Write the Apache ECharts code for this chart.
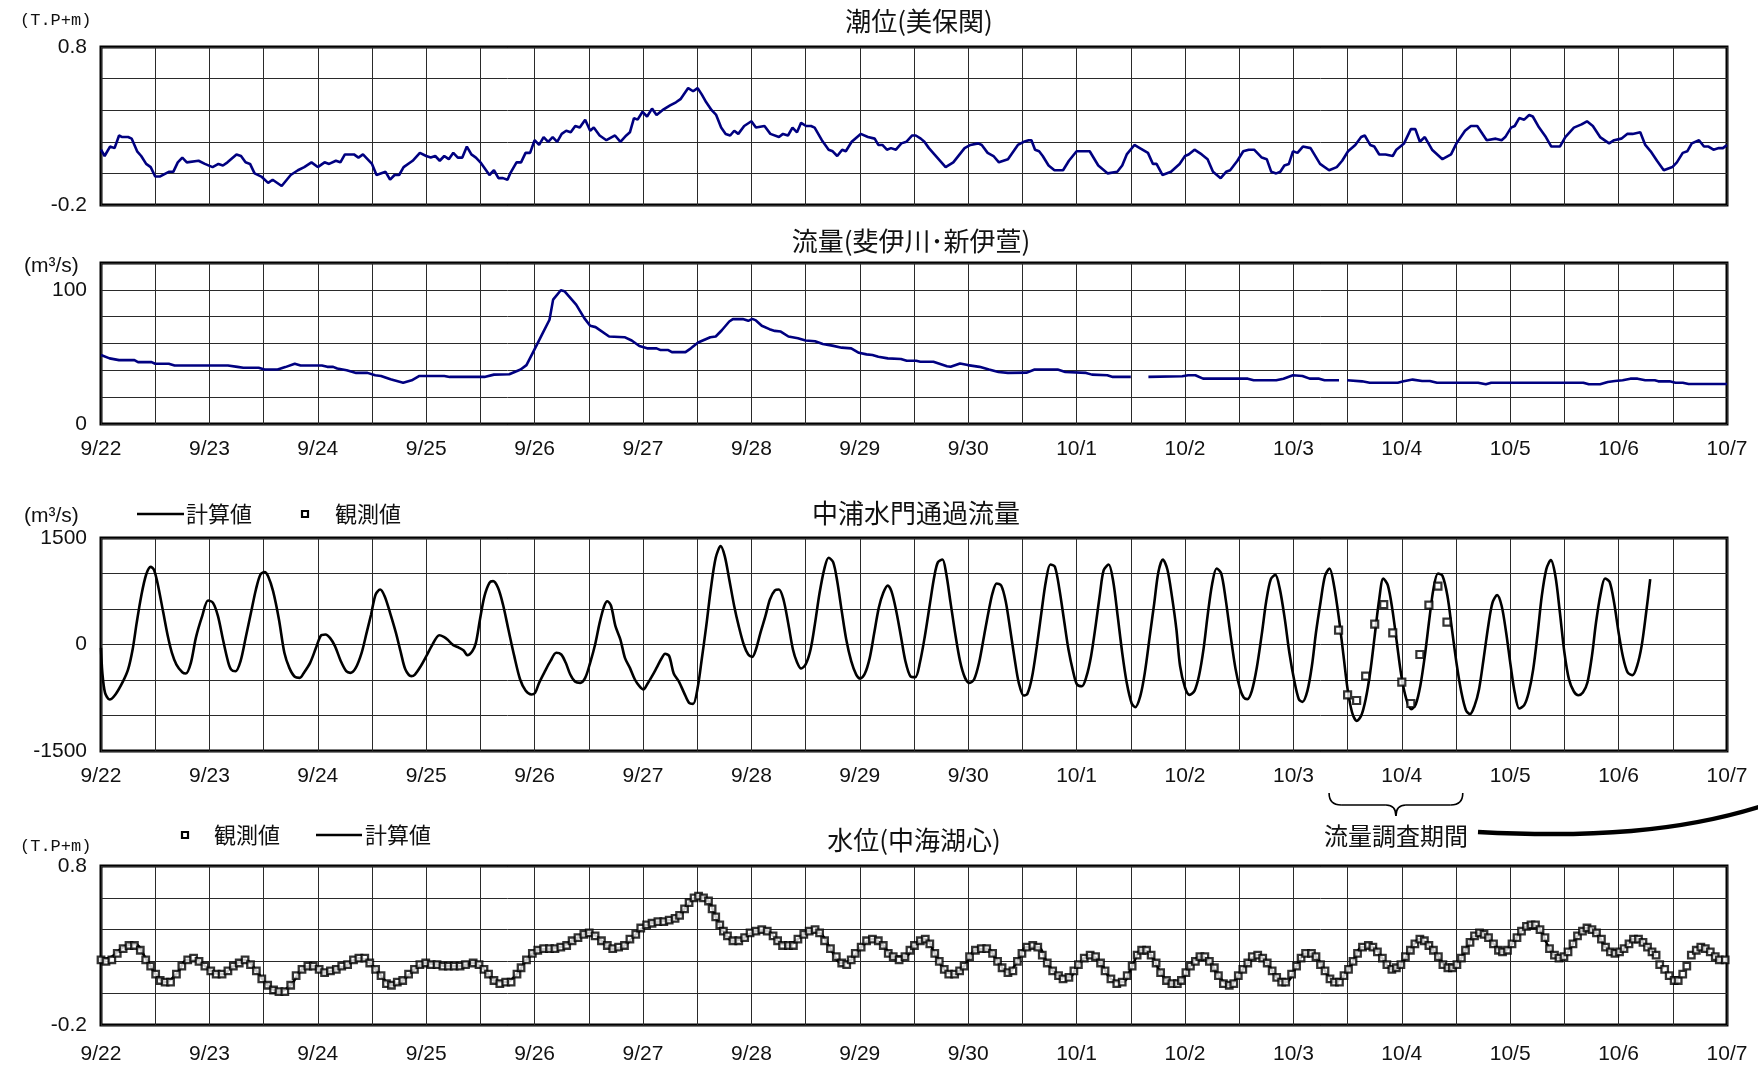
<!DOCTYPE html>
<html><head><meta charset="utf-8">
<script src="https://cdn.jsdelivr.net/npm/echarts/dist/echarts.min.js"></script>
<style>html,body{margin:0;padding:0;background:#fff}#c{width:1758px;height:1067px}</style>
</head><body><div id="c"></div><script>
// ---- tick labels ----
const dateLabels = ['9/22','9/23','9/24','9/25','9/26','9/27','9/28','9/29','9/30','10/1','10/2','10/3','10/4','10/5','10/6','10/7'];
const tideYLabels = [-0.2, 0.8];
const riverYLabels = [0, 100];
const gateYLabels = [-1500, 0, 1500];
const lakeYLabels = [-0.2, 0.8];

// ---- data: [hours since 9/22 0:00, value] ----
const tideMihonoseki = [[0,0.15],[0.8,0.11],[2,0.17],[3,0.16],[4,0.24],[4.7,0.23],[6,0.23],[6.8,0.22],[8,0.14],[8.9,0.11],[10,0.06],[11,0.04],[12,-0.02],[13,-0.02],[15,0.01],[16,0.01],[17,0.07],[18,0.10],[19,0.07],[21.6,0.08],[23,0.06],[24.7,0.04],[26,0.06],[27,0.05],[28,0.07],[30,0.12],[31,0.11],[32,0.07],[33,0.06],[34,0.0],[35.5,-0.02],[37,-0.06],[38,-0.04],[40,-0.08],[42,-0.01],[43.6,0.02],[45,0.04],[46.6,0.07],[48,0.04],[49.5,0.07],[50.5,0.06],[52,0.08],[53,0.07],[54,0.12],[56,0.12],[57,0.10],[58,0.12],[60,0.06],[61,-0.01],[63,0.01],[64,-0.04],[65,-0.01],[66,-0.01],[67,0.04],[69,0.08],[70.6,0.13],[72,0.11],[73,0.10],[74,0.11],[75,0.08],[76,0.11],[77,0.09],[78,0.13],[79,0.10],[80,0.10],[81,0.17],[82,0.12],[83,0.10],[84,0.07],[86,-0.01],[87,0.02],[88,-0.03],[89,-0.03],[90,-0.04],[90.6,0.0],[92,0.07],[93,0.07],[94,0.13],[95,0.13],[96,0.21],[97,0.18],[98,0.23],[99,0.20],[100,0.23],[101,0.20],[102,0.25],[103,0.27],[104,0.26],[105,0.30],[106,0.29],[107.2,0.34],[108.3,0.27],[109.1,0.29],[110.4,0.24],[111.9,0.21],[113.8,0.24],[115,0.20],[116.3,0.24],[117.1,0.26],[118,0.35],[118.8,0.34],[119.9,0.39],[120.9,0.36],[122,0.41],[123,0.37],[124.3,0.40],[126,0.43],[127.3,0.45],[128.3,0.47],[130,0.54],[131.1,0.52],[132.1,0.54],[133,0.50],[134,0.45],[135.2,0.40],[136.2,0.37],[137.3,0.29],[138.3,0.25],[139.3,0.24],[140.2,0.27],[141.1,0.25],[142.4,0.30],[144,0.33],[145,0.29],[146.9,0.30],[148.2,0.25],[150.1,0.23],[151,0.25],[152.1,0.24],[153.1,0.29],[154.1,0.26],[155,0.32],[156.1,0.30],[157.2,0.30],[158,0.29],[159.6,0.21],[161.1,0.15],[162,0.14],[163,0.11],[164.1,0.15],[164.9,0.14],[166.2,0.20],[168.2,0.25],[169.8,0.23],[171.3,0.22],[172.1,0.18],[173,0.18],[174,0.15],[174.9,0.16],[176,0.15],[177.2,0.19],[178.3,0.20],[179.6,0.24],[180.4,0.24],[181.5,0.22],[182.3,0.20],[183.3,0.16],[187,0.04],[188.7,0.07],[191.2,0.16],[192.5,0.18],[194.2,0.19],[195,0.18],[196.3,0.13],[197.6,0.11],[198.8,0.07],[200.8,0.09],[203,0.18],[204.3,0.20],[205.4,0.21],[206,0.21],[206.8,0.15],[207.7,0.14],[208.5,0.11],[209.8,0.05],[211.1,0.02],[213,0.02],[214.3,0.08],[216,0.14],[218.9,0.14],[220.8,0.05],[222.9,0.00],[225,0.01],[226.1,0.05],[227.1,0.12],[228.8,0.18],[230,0.16],[231.8,0.13],[232.9,0.06],[233.7,0.06],[235,-0.01],[236.9,0.01],[238.8,0.06],[240,0.11],[240.8,0.12],[242.1,0.15],[243.7,0.12],[245,0.09],[246.2,0.01],[247.9,-0.03],[249.1,0.01],[250,0.02],[251.6,0.08],[252.9,0.14],[254.1,0.15],[255.3,0.15],[257,0.10],[258.1,0.09],[259.1,0.01],[260.2,0.00],[261.1,0.01],[262,0.05],[263,0.06],[263.9,0.14],[264.9,0.13],[266.1,0.17],[267.8,0.16],[269.9,0.06],[271.9,0.02],[273.6,0.04],[274.8,0.08],[276.1,0.14],[277.7,0.18],[279,0.23],[279.8,0.24],[281,0.18],[281.9,0.17],[283,0.12],[284.4,0.12],[286,0.11],[286.8,0.15],[288.5,0.19],[290,0.28],[291,0.28],[292,0.20],[293.1,0.23],[294.7,0.15],[297,0.09],[298.9,0.12],[300.1,0.19],[302,0.27],[303.3,0.30],[304.7,0.30],[306.8,0.21],[308.8,0.22],[310.1,0.21],[310.9,0.23],[312.2,0.29],[313,0.30],[314,0.35],[315.1,0.34],[316.2,0.37],[317,0.36],[318.4,0.29],[319.9,0.23],[321.1,0.17],[323,0.17],[324.2,0.23],[326.1,0.29],[327.8,0.31],[329,0.33],[330.3,0.30],[331.9,0.23],[333.9,0.19],[335,0.21],[336.6,0.22],[337.9,0.25],[339.1,0.25],[340.8,0.26],[341.9,0.18],[343.1,0.14],[344.5,0.08],[346,0.02],[347.9,0.04],[348.9,0.07],[350.2,0.13],[351.2,0.14],[352.2,0.19],[353.8,0.21],[354.9,0.17],[355.9,0.17],[357,0.15],[358.2,0.16],[359.1,0.16],[360,0.18]];

const flowHiiRiver = [[0,51.4],[1.9,48.9],[4,47.6],[7.4,47.6],[8.2,46.1],[11.2,46.1],[12,44.9],[15,44.9],[16.3,43.6],[28.1,43.6],[30.2,42.6],[31.5,41.9],[34.9,41.9],[36.2,40.6],[39.1,40.6],[40.8,42.4],[42.9,44.9],[44.2,43.6],[48.9,43.6],[50.1,42.6],[51.4,42.6],[52.3,41.4],[54.4,40.1],[56.5,38.1],[59,38.1],[60.7,36.3],[62,35.8],[64.1,33.3],[66.9,30.8],[68.8,32.6],[70.5,35.8],[76,35.8],[77.2,35.1],[84.9,35.1],[87,36.8],[90.4,37.1],[92.9,40.6],[94.2,43.9],[95.9,55.1],[97.6,66.4],[99.3,77.7],[100.1,92.7],[101.8,99.7],[102.6,99],[105.2,89],[107,78.9],[108.3,73.2],[109.5,72.2],[112.5,65.2],[112.9,64.7],[115.9,64.7],[117.5,62.2],[119.2,58.1],[120.9,56.4],[123,56.4],[123.9,55.1],[125.6,55.1],[126.4,53.6],[129.4,53.6],[130.6,56.4],[132.2,60.7],[134.9,64.7],[136.1,65.2],[137.4,69.7],[139.1,76.4],[139.9,78.2],[142.1,78.2],[143.3,76.9],[144.2,78.4],[145,77.2],[146.3,73.2],[148,70.7],[149.2,69.4],[150.5,68.9],[152.2,65.2],[154.3,63.9],[156,62.2],[158.1,61.7],[159.8,59.6],[161.9,58.4],[164,56.9],[166.1,56.4],[167.8,53.1],[169.5,51.9],[170.8,51.4],[172.1,50.1],[174.2,48.9],[177.1,48.4],[178.4,47.1],[180.5,47.1],[181.4,46.4],[184.3,46.4],[187.3,43.1],[188.1,42.6],[190.2,45.1],[191.9,43.9],[194.5,42.6],[196.6,40.6],[198.7,38.8],[200.8,38.1],[205,38.3],[206.7,40.6],[211.8,40.6],[213.5,38.8],[218.1,38.1],[219.4,36.8],[222.8,36.3],[224,35.1],[228,35.1],[230,'-'],[231.9,35.1],[239.4,35.6],[240.7,36.3],[242.3,36.3],[244,33.8],[253.9,33.8],[255.2,32.6],[260.2,32.6],[261.8,33.8],[263.9,36.3],[266,35.8],[267.6,33.8],[269.7,33.8],[270.9,32.6],[274.1,32.6],[275,'-'],[275.9,32.6],[279.2,31.8],[280.9,30.8],[287.1,30.8],[288.4,31.8],[290.4,33.1],[292.5,32.1],[294.2,32.1],[295.8,30.8],[304.9,30.8],[306.6,29.6],[307.8,30.8],[328.2,30.8],[329.4,29.6],[331.9,29.6],[333.6,31.3],[335.2,32.1],[336.9,32.6],[338.6,33.8],[340.2,33.8],[341.9,32.6],[344,32.6],[344.8,31.8],[347.3,31.8],[348.6,30.8],[350.2,30.8],[351.5,29.8],[360,29.8]];

const gateFlowCalc = [[0,-47],[0.3,-399],[0.9,-681],[1.9,-775],[3.2,-704],[4.9,-516],[6,-352],[7,-70],[7.9,305],[8.9,681],[10,986],[11,1094],[11.7,1056],[12.5,869],[13.8,446],[14.8,117],[15.7,-117],[16.7,-282],[18,-390],[18.8,-408],[19.9,-258],[21,94],[22.4,399],[23.7,620],[24.8,587],[25.9,399],[27,70],[28.1,-235],[28.8,-352],[29.8,-376],[30.9,-235],[32.1,117],[33.2,446],[34.3,775],[35.3,986],[36.2,1019],[37,962],[38.1,751],[39.4,352],[40.6,-117],[41.7,-329],[42.9,-455],[44,-470],[45,-390],[46.3,-258],[47.6,-47],[48.7,127],[49.7,141],[50.7,94],[51.8,-23],[53.1,-235],[54.3,-376],[55.2,-399],[56.4,-329],[57.7,-117],[58.8,164],[59.8,423],[60.8,704],[61.8,775],[62.8,681],[64,446],[65.3,164],[66.4,-117],[67.4,-352],[68.7,-446],[69.5,-423],[70.8,-305],[72.1,-155],[73.2,-23],[74.9,131],[75.9,108],[76.7,70],[78,-9],[79.3,-47],[80.3,-85],[81.1,-150],[82.2,-94],[83,23],[83.9,352],[84.9,681],[86,869],[86.8,892],[87.9,798],[89,563],[90.2,211],[91.5,-164],[92.8,-493],[94,-648],[95.3,-704],[96.1,-681],[97,-540],[98.3,-376],[99.5,-235],[100.8,-117],[101.9,-141],[102.9,-258],[103.9,-423],[105,-526],[106.1,-540],[107.2,-470],[108.3,-258],[109.4,0],[110.4,305],[111.4,540],[112.1,610],[112.9,549],[113.9,258],[115,70],[116,-188],[117.1,-329],[118.2,-493],[119.2,-587],[120.1,-634],[120.9,-563],[122,-446],[123,-329],[124.1,-197],[124.9,-131],[125.8,-164],[126.8,-408],[127.9,-516],[129.1,-681],[130.2,-822],[131.1,-836],[132.1,-610],[133,-211],[134,258],[135,775],[136.1,1221],[137.2,1385],[138.1,1244],[139.1,916],[140.2,540],[141.2,258],[142.3,0],[143.3,-141],[144.2,-174],[145,-70],[146,164],[147.1,399],[148.1,634],[149.2,761],[150.1,775],[151.1,634],[152.2,282],[153.2,-70],[154.1,-249],[155,-338],[156,-282],[157.1,-70],[158.1,305],[159.1,728],[160.2,1080],[161.1,1221],[162.1,1160],[163,892],[164,470],[165,70],[166.1,-235],[167.2,-423],[168.1,-479],[169.1,-413],[170.2,-188],[171.2,164],[172.2,516],[173.2,728],[174.2,831],[175,751],[176,493],[177.1,117],[178.1,-235],[179.2,-446],[180.3,-460],[181.3,-258],[182.4,117],[183.5,563],[184.5,962],[185.3,1160],[186.3,1197],[187.1,1009],[188.1,587],[189.1,164],[190.2,-235],[191.3,-470],[192.3,-540],[193.3,-493],[194.4,-258],[195.5,117],[196.6,493],[197.4,728],[198.3,859],[199.3,831],[200.3,610],[201.3,211],[202.3,-211],[203.2,-540],[204.3,-718],[205.1,-695],[206.1,-470],[207.2,-23],[208.2,446],[209.2,892],[210.2,1127],[211.2,1094],[212.2,775],[213.2,352],[214.2,-70],[215.3,-399],[216.1,-563],[217.2,-587],[218.2,-446],[219.2,-164],[220.2,258],[221.2,728],[222,1047],[223.1,1127],[224.1,892],[225.1,399],[226.1,-117],[227.1,-540],[228.2,-831],[229,-883],[230.1,-728],[231.1,-399],[232.2,117],[233.2,587],[234.1,1019],[235.1,1197],[236.1,1056],[237.1,681],[238.1,211],[238.9,-300],[240,-606],[241,-709],[242.1,-653],[243.1,-441],[244.1,-66],[245,404],[246,850],[247,1071],[248,1005],[249,639],[250.1,122],[251.2,-347],[252.2,-629],[253,-746],[253.8,-770],[254.8,-653],[255.9,-324],[257,146],[258,615],[259,920],[260,981],[261,780],[262.1,357],[263.1,-113],[264.2,-512],[265.2,-770],[266,-808],[267.1,-653],[268.1,-300],[269,169],[270,592],[271,968],[272,1071],[273,827],[274.1,357],[275.1,-160],[276,-629],[277,-958],[278,-1075],[279,-1005],[280,-770],[281,-394],[282,122],[283,639],[283.9,930],[284.9,836],[285.9,498],[286.9,28],[287.9,-441],[289,-770],[290.1,-911],[291.1,-841],[292.1,-582],[293.1,-160],[294.1,357],[295,780],[296,1001],[297,967],[298.1,686],[299.1,216],[300.2,-300],[301.2,-676],[302.2,-925],[303.1,-981],[304.1,-864],[305.1,-629],[306.1,-207],[307.2,286],[308.1,592],[309.1,695],[310.1,545],[311.1,169],[312.1,-300],[313,-676],[314,-902],[315.1,-855],[316.1,-676],[317.1,-347],[318.1,169],[319,686],[320,1062],[321,1188],[322,967],[323,451],[324,-113],[325,-488],[326.1,-662],[327.1,-714],[328.1,-676],[329.1,-535],[330.1,-160],[331,310],[332,709],[333,930],[334,883],[335,592],[336,169],[337,-183],[338,-394],[339.1,-432],[340.1,-300],[341.1,-19],[342.1,451],[343,920]];

const gateFlowObs = [[274,202],[276,-709],[278,-789],[280,-446],[282,286],[284,563],[286,164],[288,-531],[290,-831],[292,-141],[294,554],[296,822],[298,315]];

const lakeLevelObs = [[0,0.21],[1.1,0.20],[2.4,0.21],[3.6,0.25],[4.9,0.28],[6.2,0.30],[7.4,0.30],[8.7,0.27],[9.9,0.21],[11,0.17],[12.1,0.12],[13.1,0.08],[14.2,0.07],[15.4,0.07],[16.7,0.12],[17.9,0.17],[19.2,0.21],[20.5,0.22],[21.7,0.20],[23,0.17],[24.3,0.14],[25.5,0.12],[26.8,0.12],[28.1,0.14],[29.3,0.17],[30.6,0.19],[31.9,0.21],[33.1,0.18],[34.4,0.14],[35.6,0.09],[36.9,0.05],[38.2,0.02],[39.4,0.01],[40.7,0.01],[42,0.05],[43.2,0.11],[44.5,0.15],[45.8,0.17],[47,0.17],[48.3,0.15],[49.5,0.13],[50.8,0.14],[52.1,0.15],[53.3,0.17],[54.6,0.18],[55.9,0.21],[57.1,0.22],[58.4,0.22],[59.5,0.19],[60.8,0.15],[62,0.11],[63.2,0.06],[64.3,0.05],[65.6,0.07],[66.8,0.08],[68.1,0.12],[69.4,0.15],[70.6,0.18],[71.9,0.19],[73.1,0.18],[74.4,0.18],[75.7,0.17],[76.9,0.17],[78.2,0.17],[79.5,0.17],[80.7,0.18],[82.4,0.19],[83.7,0.18],[84.8,0.15],[85.8,0.12],[87,0.08],[88.3,0.06],[89.6,0.07],[90.8,0.07],[92.1,0.12],[93,0.16],[94.2,0.21],[95.5,0.25],[96.7,0.27],[98,0.28],[99.3,0.28],[100.5,0.28],[101.8,0.29],[103.1,0.30],[104.3,0.33],[105.6,0.35],[106.9,0.37],[108.1,0.38],[109.4,0.36],[110.8,0.33],[112.1,0.30],[113.3,0.28],[114.6,0.29],[115.9,0.30],[117.1,0.34],[118.4,0.37],[119.5,0.41],[120.8,0.43],[122,0.44],[123.3,0.45],[124.6,0.45],[125.8,0.46],[127.1,0.47],[128.1,0.49],[129.2,0.53],[130.2,0.57],[131.3,0.60],[132.3,0.61],[133.4,0.60],[134.5,0.58],[135.3,0.53],[136.1,0.48],[137,0.43],[137.8,0.39],[138.7,0.36],[139.9,0.33],[141.2,0.33],[142.5,0.35],[143.7,0.38],[145,0.39],[146.3,0.40],[147.5,0.39],[148.8,0.36],[149.8,0.33],[150.9,0.30],[152.2,0.30],[153.3,0.30],[154.3,0.34],[155.6,0.37],[156.8,0.39],[158.1,0.40],[159.1,0.38],[160.2,0.33],[161.5,0.28],[162.8,0.23],[164,0.19],[165.1,0.18],[166.1,0.21],[167,0.25],[168.3,0.29],[169.5,0.33],[170.8,0.34],[172.1,0.33],[173.2,0.30],[174.3,0.25],[175.4,0.23],[176.7,0.21],[178,0.23],[179.1,0.27],[180.1,0.30],[181.4,0.33],[182.5,0.34],[183.5,0.31],[184.6,0.25],[185.6,0.20],[186.7,0.15],[187.7,0.12],[189,0.12],[190.1,0.14],[191.1,0.17],[192.3,0.23],[193.6,0.27],[194.9,0.28],[196.1,0.28],[197.4,0.25],[198.5,0.20],[199.5,0.16],[200.8,0.13],[201.9,0.14],[202.9,0.20],[203.9,0.25],[205,0.29],[206.3,0.30],[207.4,0.29],[208.4,0.24],[209.5,0.19],[210.7,0.14],[212,0.11],[213,0.09],[214.3,0.10],[215.4,0.14],[216.4,0.18],[217.7,0.22],[219,0.24],[220.2,0.23],[221.3,0.19],[222.3,0.14],[223.6,0.09],[224.9,0.06],[226.1,0.07],[227.2,0.11],[228.3,0.17],[229.4,0.24],[230.4,0.27],[231.5,0.27],[232.5,0.24],[233.6,0.19],[234.6,0.13],[235.9,0.08],[237.1,0.06],[238.3,0.06],[239.2,0.08],[240.2,0.13],[241.2,0.17],[242.3,0.20],[243.3,0.23],[244.4,0.23],[245.4,0.20],[246.5,0.16],[247.4,0.11],[248.5,0.06],[249.8,0.05],[250.8,0.06],[251.8,0.11],[252.8,0.15],[253.9,0.19],[254.9,0.23],[256.1,0.24],[257.2,0.22],[258.2,0.19],[259.3,0.14],[260.3,0.10],[261.4,0.07],[262.3,0.07],[263.6,0.12],[264.7,0.17],[265.7,0.22],[266.7,0.25],[268,0.25],[269,0.23],[270,0.18],[271,0.14],[272.1,0.09],[273.1,0.07],[274.2,0.07],[275.2,0.11],[276.2,0.15],[277.2,0.20],[278.2,0.25],[279.3,0.29],[280.6,0.30],[281.6,0.29],[282.6,0.26],[283.7,0.22],[284.7,0.18],[285.8,0.15],[286.8,0.16],[287.8,0.18],[288.8,0.23],[289.9,0.27],[290.9,0.31],[292,0.34],[293,0.33],[294,0.30],[295,0.27],[296.1,0.23],[297.1,0.18],[298.2,0.16],[299.2,0.16],[300.2,0.18],[301.2,0.22],[302.1,0.27],[303.1,0.32],[304.1,0.36],[305.2,0.38],[306.2,0.37],[307.2,0.35],[308.3,0.31],[309.4,0.27],[310.3,0.26],[311.4,0.27],[312.4,0.31],[313.5,0.35],[314.5,0.39],[315.6,0.42],[316.6,0.43],[317.6,0.43],[318.6,0.40],[319.7,0.35],[320.7,0.28],[321.8,0.24],[322.8,0.22],[323.9,0.23],[324.8,0.26],[325.9,0.31],[326.9,0.36],[328,0.39],[329,0.41],[330.1,0.40],[331.1,0.38],[332.2,0.34],[333.1,0.29],[334.2,0.26],[335.2,0.25],[336.2,0.26],[337.2,0.28],[338.3,0.31],[339.3,0.34],[340.4,0.34],[341.4,0.32],[342.4,0.29],[343.4,0.26],[344.3,0.24],[345.1,0.18],[346.2,0.15],[347.2,0.11],[348.3,0.08],[349.2,0.08],[350.2,0.12],[351.1,0.17],[352.1,0.24],[353.2,0.27],[354.2,0.29],[355.2,0.28],[356.3,0.26],[357.4,0.23],[358.3,0.21],[359.6,0.21]];

const lakeLevelCalc = [[0,0.21],[2.4,0.23],[4.9,0.29],[7.4,0.31],[9.9,0.22],[12.1,0.12],[14.2,0.07],[16.7,0.12],[19.2,0.21],[21.7,0.20],[24.3,0.14],[26.8,0.12],[29.3,0.17],[31.9,0.21],[34.4,0.14],[36.9,0.05],[39.4,0.01],[42,0.05],[44.5,0.15],[47,0.17],[49.5,0.13],[52.1,0.15],[54.6,0.18],[57.1,0.22],[59.5,0.19],[62,0.11],[64.3,0.05],[66.8,0.08],[69.4,0.15],[71.9,0.19],[74.4,0.18],[76.9,0.17],[79.5,0.17],[82.4,0.19],[84.8,0.15],[87,0.08],[89.6,0.07],[92.1,0.12],[94.2,0.21],[96.7,0.27],[99.3,0.28],[101.8,0.29],[104.3,0.33],[106.9,0.37],[108.1,0.38],[110.8,0.33],[113.3,0.28],[115.9,0.30],[118.4,0.37],[120.8,0.43],[123.3,0.45],[125.8,0.46],[128.1,0.49],[130.2,0.57],[132.3,0.61],[134.5,0.58],[136.1,0.48],[137.8,0.39],[139.9,0.33],[142.5,0.35],[145,0.39],[147.5,0.39],[149.8,0.33],[152.2,0.30],[154.3,0.34],[156.8,0.39],[159.1,0.38],[161.5,0.28],[164,0.19],[166.1,0.21],[168.3,0.29],[170.8,0.34],[173.2,0.30],[175.4,0.23],[178,0.23],[180.1,0.30],[182.5,0.34],[184.6,0.25],[186.7,0.15],[189,0.12],[191.1,0.17],[193.6,0.27],[196.1,0.28],[198.5,0.20],[200.8,0.13],[202.9,0.20],[205,0.29],[207.4,0.29],[209.5,0.19],[212,0.11],[214.3,0.10],[216.4,0.18],[219,0.24],[221.3,0.19],[223.6,0.09],[226.1,0.07],[228.3,0.17],[230.4,0.27],[232.5,0.24],[234.6,0.13],[237.1,0.06],[239.2,0.08],[241.2,0.17],[243.3,0.23],[245.4,0.20],[247.4,0.11],[249.8,0.05],[251.8,0.11],[253.9,0.19],[256.1,0.24],[258.2,0.19],[260.3,0.10],[262.3,0.07],[264.7,0.17],[266.7,0.25],[269,0.23],[271,0.14],[273.1,0.07],[275.2,0.11],[277.2,0.20],[279.3,0.29],[281.6,0.29],[283.7,0.22],[285.8,0.15],[287.8,0.18],[289.9,0.27],[292,0.34],[294,0.30],[296.1,0.23],[298.2,0.16],[300.2,0.18],[302.1,0.27],[304.1,0.36],[306.2,0.37],[308.3,0.31],[310.3,0.26],[312.4,0.31],[314.5,0.39],[316.6,0.43],[318.6,0.40],[320.7,0.28],[322.8,0.22],[324.8,0.26],[326.9,0.36],[329,0.41],[331.1,0.38],[333.1,0.29],[335.2,0.25],[337.2,0.28],[339.3,0.34],[341.4,0.32],[343.4,0.26]];

// survey period (hours) for the brace annotation
const surveyPeriod = [271.9, 301.5];

// ---- chart ----
const NUM = "'Liberation Sans',Arial,sans-serif";
const MONO = "'Liberation Mono','DejaVu Sans Mono',monospace";
const CJK = "'Noto Sans CJK JP','Noto Sans CJK SC',sans-serif";
const chart = echarts.init(document.getElementById('c'), null, {renderer:'canvas'});

const gridBox = [
  {left:101, top:47,  width:1626, height:158},
  {left:101, top:263, width:1626, height:161},
  {left:101, top:538, width:1626, height:213},
  {left:101, top:866, width:1626, height:159}
];
const splitLine = {show:true, lineStyle:{color:'#2a2a2a', width:1}};
function xAxis(i, showLabel, margin){
  return {type:'value', gridIndex:i, min:0, max:360, interval:12,
    axisLine:{show:false}, axisTick:{show:false}, splitLine:splitLine,
    axisLabel:{show:showLabel, margin:margin, color:'#111', fontFamily:NUM, fontSize:21,
      formatter:v => (v % 24 === 0 ? dateLabels[v/24] : '')}};
}
function yAxis(i, min, max, interval, labels){
  return {type:'value', gridIndex:i, min:min, max:max, interval:interval,
    axisLine:{show:false}, axisTick:{show:false}, splitLine:splitLine,
    axisLabel:{margin:14, color:'#111', fontFamily:NUM, fontSize:21,
      formatter:v => {const r=Math.round(v*1000)/1000; return labels.indexOf(r)>=0 ? String(r) : '';}}};
}

chart.setOption({
  animation:false,
  backgroundColor:'#fff',
  grid: gridBox.map(g => Object.assign({show:true, borderColor:'#000', borderWidth:3, backgroundColor:'transparent'}, g)),
  xAxis:[xAxis(0,false,15), xAxis(1,true,15), xAxis(2,true,15), xAxis(3,true,19)],
  yAxis:[
    yAxis(0,-0.2,0.8,0.2,tideYLabels),
    yAxis(1,0,120,20,riverYLabels),
    yAxis(2,-1500,1500,500,gateYLabels),
    yAxis(3,-0.2,0.8,0.2,lakeYLabels)
  ],
  series:[
    {name:'潮位', type:'line', xAxisIndex:0, yAxisIndex:0, data:tideMihonoseki, showSymbol:false,
      lineStyle:{color:'#000080', width:2.6}, z:5},
    {name:'流量', type:'line', xAxisIndex:1, yAxisIndex:1, data:flowHiiRiver, showSymbol:false, connectNulls:false,
      lineStyle:{color:'#000080', width:2.6}, z:5},
    {name:'計算値', type:'line', xAxisIndex:2, yAxisIndex:2, data:gateFlowCalc, showSymbol:false, smooth:0.3,
      lineStyle:{color:'#000', width:2.6}, z:5},
    {name:'観測値', type:'scatter', xAxisIndex:2, yAxisIndex:2, data:gateFlowObs, symbol:'rect', symbolSize:7,
      itemStyle:{color:'#fff', borderColor:'#000', borderWidth:2.2}, z:6},
    {name:'計算値', type:'line', xAxisIndex:3, yAxisIndex:3, data:lakeLevelCalc, showSymbol:false, smooth:0.4,
      lineStyle:{color:'#000', width:2.6}, z:5},
    {name:'観測値', type:'scatter', xAxisIndex:3, yAxisIndex:3, data:lakeLevelObs, symbol:'rect', symbolSize:6.5,
      itemStyle:{color:'#fff', borderColor:'#000', borderWidth:2.3}, z:6}
  ]
});

// ---- annotations: titles, units, legends, brace ----
const bx1 = chart.convertToPixel({xAxisIndex:2}, surveyPeriod[0]);
const bx2 = chart.convertToPixel({xAxisIndex:2}, surveyPeriod[1]);
const bm = (bx1+bx2)/2, bt = 793, bmid = 805, bb = 816;
function txt(x,y,s,size,font,align){
  return {type:'text', x:x, y:y, style:{text:s, font:size+'px '+font, fill:'#111', textAlign:align||'center', textVerticalAlign:'middle'}, z:20};
}
function seg(x1,y1,x2,y2,w){
  return {type:'line', shape:{x1:x1,y1:y1,x2:x2,y2:y2}, style:{stroke:'#000', lineWidth:w}, z:20};
}
function qcurve(x1,y1,cx,cy,x2,y2,w){
  return {type:'bezierCurve', shape:{x1:x1,y1:y1,x2:x2,y2:y2,cpx1:cx,cpy1:cy}, style:{stroke:'#000', fill:null, lineWidth:w}, z:20};
}
function sq(x,y,s){
  return {type:'rect', shape:{x:x-s/2,y:y-s/2,width:s,height:s}, style:{fill:'#fff', stroke:'#000', lineWidth:2.2}, z:20};
}
chart.setOption({graphic:[
  txt(919,21,'潮位(美保関)',26,CJK),
  txt(911,241,'流量(斐伊川･新伊萱)',26,CJK),
  txt(916,513,'中浦水門通過流量',26,CJK),
  txt(914,840,'水位(中海湖心)',26,CJK),
  txt(20,20,'(T.P+m)',17,MONO,'left'),
  txt(24,266,'(m³/s)',21,NUM,'left'),
  txt(24,516,'(m³/s)',21,NUM,'left'),
  txt(20,846,'(T.P+m)',17,MONO,'left'),
  // legend panel 3
  seg(137,514,184,514,2.6), txt(186,514,'計算値',22,CJK,'left'),
  sq(305,514,6), txt(335,514,'観測値',22,CJK,'left'),
  // legend panel 4
  sq(185,835,6), txt(214,835,'観測値',22,CJK,'left'),
  seg(316,835,362,835,2.6), txt(365,835,'計算値',22,CJK,'left'),
  // brace
  qcurve(bx1,bt,bx1,bmid,bx1+12,bmid,1.6),
  seg(bx1+12,bmid,bm-10,bmid,1.6),
  qcurve(bm-10,bmid,bm,bmid,bm,bb,1.6),
  qcurve(bm,bb,bm,bmid,bm+10,bmid,1.6),
  seg(bm+10,bmid,bx2-12,bmid,1.6),
  qcurve(bx2-12,bmid,bx2,bmid,bx2,bt,1.6),
  txt(bm,836,'流量調査期間',24,CJK),
  {type:'bezierCurve', shape:{x1:1478,y1:832,cpx1:1590,cpy1:838,cpx2:1680,cpy2:832,x2:1762,y2:806},
    style:{stroke:'#000', fill:null, lineWidth:4.5}, z:20}
]});
</script></body></html>
